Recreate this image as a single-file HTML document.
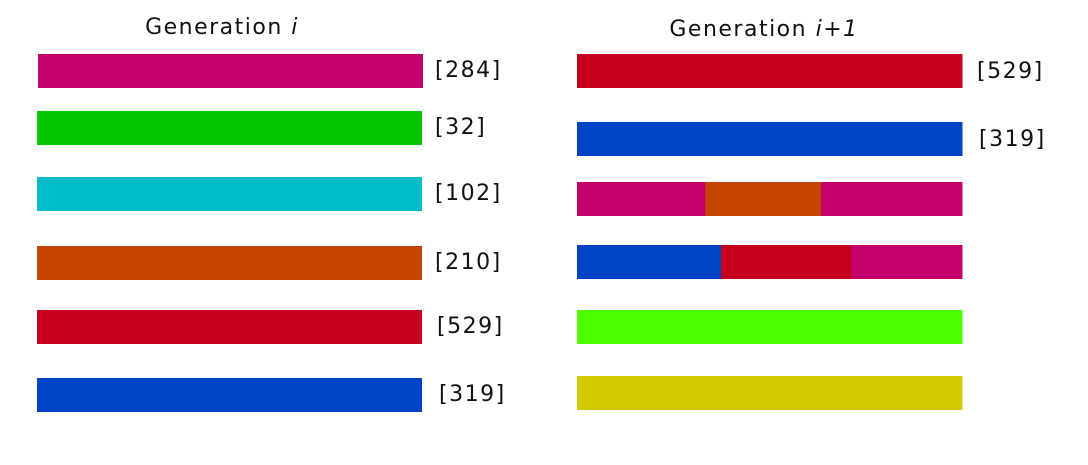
<!DOCTYPE html>
<html><head><meta charset="utf-8"><style>
body{margin:0;background:#fff;width:1088px;height:460px;overflow:hidden}
svg text{font-family:"DejaVu Sans","Liberation Sans",sans-serif;fill:#111;letter-spacing:1.5px}
</style></head><body>
<svg id="chart" width="1088" height="460" xmlns="http://www.w3.org/2000/svg">
<text x="222" y="34" font-size="22" text-anchor="middle">Generation <tspan font-style="italic">i</tspan></text>
<text x="764" y="36" font-size="22" text-anchor="middle">Generation <tspan font-style="italic">i+1</tspan></text>
</svg>
<script>
const leftLabels=["[284]","[32]","[102]","[210]","[529]","[319]"];
const leftColors=["#c4006c","#05c400","#00bec8","#c44400","#c4001e","#0044c4"];
const leftY=[54,111,177,246,310,378];
const leftX=[38,37,37,37,37,37];
const leftLabelX=[435,435,435,435,437,439];
const rightLabels=["[529]","[319]","","","",""];
const rightY=[54,122,182,245,310,376];
const rightLabelX=[977,979,0,0,0,0];
const rightSegColors=[["#c4001e"],["#0044c4"],["#c4006c","#c44400","#c4006c"],["#0044c4","#c4001e","#c4006c"],["#4cff00"],["#d4c800"]];
const rightSegFrac=[[1],[1],[0.333,0.301,0.366],[0.374,0.338,0.288],[1],[1]];
const svg=document.getElementById('chart');
const NS="http://www.w3.org/2000/svg";
const W=385,H=34,RX=577;
function mk(t,a){const e=document.createElementNS(NS,t);for(const k in a)e.setAttribute(k,a[k]);svg.appendChild(e);return e;}
leftLabels.forEach((l,i)=>{
  const r=mk('rect',{x:leftX[i],y:leftY[i],width:W,height:H,fill:leftColors[i]});
  
  
  const t=mk('text',{x:leftLabelX[i],y:leftY[i]+23,'font-size':22});
  t.textContent=l;
  
  
});
rightSegColors.forEach((cs,i)=>{
  let x=RX;
  cs.forEach((c,j)=>{
    const w=rightSegFrac[i][j]*W;
    const r=mk('rect',{x:x,y:rightY[i],width:w+0.5,height:H,fill:c});
    
    
    x+=w;
  });
  if(rightLabels[i]){
    const t=mk('text',{x:rightLabelX[i],y:rightY[i]+24,'font-size':22});
    t.textContent=rightLabels[i];
    
    
  }
});
</script>
</body></html>
